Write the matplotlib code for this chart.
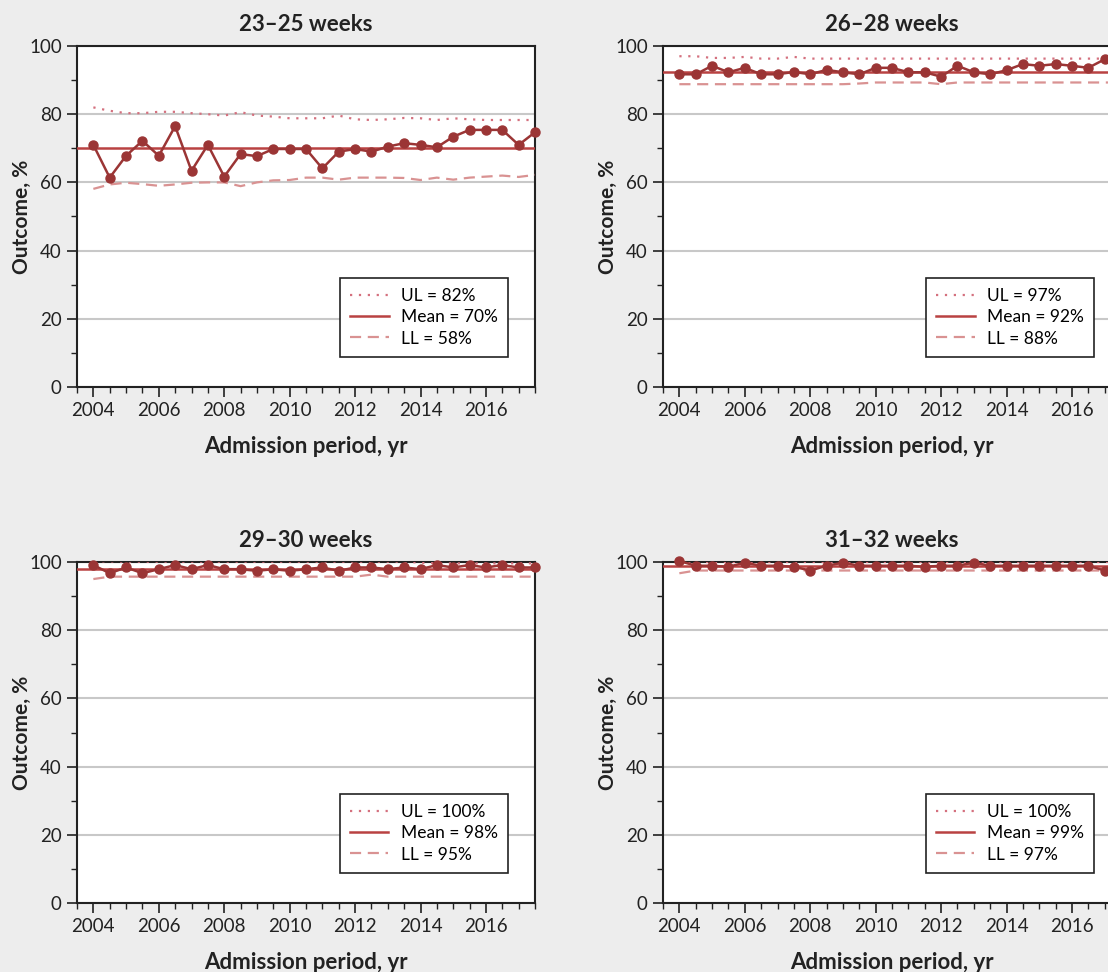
import matplotlib
matplotlib.use("Agg")
import matplotlib.pyplot as plt
from matplotlib.ticker import MultipleLocator

plt.rcParams['font.family'] = ['Lato', 'DejaVu Sans']

# admission periods, half-year steps
periods = [2004 + 0.5 * i for i in range(28)]

titles = ["23\u201325 weeks", "26\u201328 weeks", "29\u201330 weeks", "31\u201332 weeks"]

# observed outcome per period, %
obs_23_25 = [71.0, 61.4, 67.8, 72.2, 67.8, 76.5, 63.4, 71.0, 61.7, 68.3,
             67.7, 69.8, 69.8, 69.8, 64.1, 69.0, 69.8, 69.0, 70.5, 71.5,
             71.0, 70.3, 73.4, 75.4, 75.4, 75.4, 71.0, 74.7]
obs_26_28 = [91.7, 91.7, 94.2, 92.3, 93.6, 91.7, 91.7, 92.4, 91.7, 93.0,
             92.3, 91.7, 93.6, 93.6, 92.3, 92.3, 91.0, 94.2, 92.3, 91.7,
             92.9, 94.7, 94.2, 94.7, 94.2, 93.6, 96.1, 96.0]
obs_29_30 = [99.1, 96.7, 98.4, 96.7, 97.9, 99.1, 97.9, 99.1, 97.9, 97.9,
             97.4, 97.9, 97.4, 97.9, 98.4, 97.4, 98.4, 98.4, 97.9, 98.4,
             97.9, 99.1, 98.4, 99.1, 98.4, 99.1, 98.4, 98.4]
obs_31_32 = [100.3, 98.9, 98.9, 98.6, 99.8, 98.9, 98.9, 98.6, 97.5, 98.9,
             99.8, 98.9, 98.9, 98.9, 98.9, 98.6, 98.9, 98.9, 99.8, 98.9,
             98.9, 98.9, 98.9, 98.9, 98.9, 98.9, 97.5, 98.5]

# upper control limits
ul_23_25 = [82.0, 81.0, 80.3, 80.3, 80.7, 80.7, 80.3, 80.0, 79.6, 80.6,
            79.6, 79.3, 78.8, 78.8, 78.8, 79.6, 78.5, 78.3, 78.5, 78.9,
            78.8, 78.3, 78.8, 78.5, 78.3, 78.3, 78.3, 78.3]
ul_26_28 = [97.0, 97.0, 96.5, 96.5, 96.8, 96.3, 96.3, 96.8, 96.3, 96.3,
            96.3, 96.3, 96.3, 96.3, 96.3, 96.3, 96.3, 96.3, 96.3, 96.3,
            96.3, 96.3, 96.3, 96.3, 96.3, 96.3, 96.3, 96.3]
ul_29_30 = [100.2, 100.2, 100.1, 100.1, 100.1, 100.1, 100.1, 100.1, 100.1, 100.1,
            100.1, 100.1, 100.1, 100.1, 100.1, 100.1, 100.1, 100.1, 100.1, 100.1,
            99.8, 99.6, 99.6, 99.6, 99.6, 99.6, 99.6, 99.6]
ul_31_32 = [100.2, 100.0, 100.0, 100.0, 100.0, 100.0, 100.0, 100.0, 100.0, 100.0,
            100.0, 100.0, 100.0, 100.0, 100.0, 100.0, 100.0, 100.0, 100.0, 100.0,
            100.0, 100.0, 100.0, 100.0, 100.0, 100.0, 100.0, 100.0]

# lower control limits
ll_23_25 = [58.1, 59.4, 59.9, 59.5, 59.0, 59.4, 59.9, 60.0, 60.0, 58.9,
            60.0, 60.6, 60.7, 61.4, 61.4, 60.8, 61.4, 61.4, 61.4, 61.3,
            60.7, 61.4, 60.8, 61.4, 61.7, 62.0, 61.6, 62.2]
ll_26_28 = [88.8, 88.8, 88.8, 88.8, 88.8, 88.8, 88.8, 88.8, 88.8, 88.8,
            88.8, 89.0, 89.3, 89.3, 89.3, 89.3, 88.8, 89.3, 89.3, 89.3,
            89.3, 89.3, 89.3, 89.3, 89.3, 89.3, 89.3, 89.3]
ll_29_30 = [95.0, 95.7, 95.7, 95.7, 95.7, 95.7, 95.7, 95.7, 95.7, 95.7,
            95.7, 95.7, 95.7, 95.7, 95.7, 95.7, 95.7, 96.3, 95.7, 95.7,
            95.7, 95.7, 95.7, 95.7, 95.7, 95.7, 95.7, 95.7]
ll_31_32 = [96.7, 97.5, 97.5, 97.5, 97.5, 97.5, 97.5, 97.5, 97.5, 97.5,
            97.5, 97.5, 97.5, 97.5, 97.5, 97.5, 97.5, 97.5, 97.5, 97.5,
            97.5, 97.5, 97.5, 97.5, 97.5, 97.5, 97.5, 97.5]

means = [70.2, 92.5, 97.9, 98.8]
ul_labels = ["UL = 82%", "UL = 97%", "UL = 100%", "UL = 100%"]
mean_labels = ["Mean = 70%", "Mean = 92%", "Mean = 98%", "Mean = 99%"]
ll_labels = ["LL = 58%", "LL = 88%", "LL = 95%", "LL = 97%"]

observed = [obs_23_25, obs_26_28, obs_29_30, obs_31_32]
upper = [ul_23_25, ul_26_28, ul_29_30, ul_31_32]
lower = [ll_23_25, ll_26_28, ll_29_30, ll_31_32]

W, H = 1108, 972
fig = plt.figure(figsize=(W / 100, H / 100), dpi=100, facecolor="#ededed")

# axes boxes in pixels: left, top
boxes = [(77, 46), (663, 46), (77, 562), (663, 562)]
aw, ah = 458, 341

c_obs = "#9b3535"
c_mean = "#b94242"
c_ul = "#d4707e"
c_ll = "#d99292"

for i in range(4):
    left, top = boxes[i]
    ax = fig.add_axes([left / W, 1 - (top + ah) / H, aw / W, ah / H])
    ax.set_facecolor("white")

    ax.plot(periods, upper[i], color=c_ul, lw=1.6, ls=(0, (1, 3)), label=ul_labels[i], zorder=3)
    ax.axhline(means[i], color=c_mean, lw=1.8, label=mean_labels[i], zorder=3)
    ax.plot(periods, lower[i], color=c_ll, lw=1.6, ls=(0, (5, 3)), label=ll_labels[i], zorder=3)
    ax.plot(periods, observed[i], color=c_obs, lw=1.8, marker="o", ms=6.5, zorder=4, clip_on=False)

    ax.set_xlim(2003.5, 2017.5)
    ax.set_ylim(0, 100)
    ax.xaxis.set_major_locator(MultipleLocator(2))
    ax.xaxis.set_minor_locator(MultipleLocator(0.5))
    ax.yaxis.set_major_locator(MultipleLocator(20))
    ax.yaxis.set_minor_locator(MultipleLocator(10))
    ax.set_xticks([2004, 2006, 2008, 2010, 2012, 2014, 2016])
    ax.tick_params(which="major", length=7, width=1.2, color="#222222", labelsize=13.5,
                   labelcolor="#222222", pad=4)
    ax.tick_params(which="minor", length=4, width=1.0, color="#222222")
    ax.grid(axis="y", which="major", color="#c8c8c8", lw=1.5, zorder=0)
    ax.set_axisbelow(True)
    for s in ax.spines.values():
        s.set_color("#222222")
        s.set_linewidth(1.5)

    ax.set_title(titles[i], fontsize=16, fontweight="bold", color="#222222", pad=11)
    ax.set_xlabel("Admission period, yr", fontsize=16, fontweight="bold", color="#222222", labelpad=12)
    ax.set_ylabel("Outcome, %", fontsize=15, fontweight="bold", color="#222222", labelpad=-2)

    leg = ax.legend(loc="lower right", bbox_to_anchor=(0.941, 0.088), fontsize=12.5,
                    frameon=True, fancybox=False, edgecolor="#222222", framealpha=1,
                    handlelength=2.2, labelspacing=0.3, borderpad=0.6, handletextpad=0.7,
                    borderaxespad=0)
    leg.get_frame().set_linewidth(1.2)

fig.savefig("out.png", dpi=100, facecolor=fig.get_facecolor())
